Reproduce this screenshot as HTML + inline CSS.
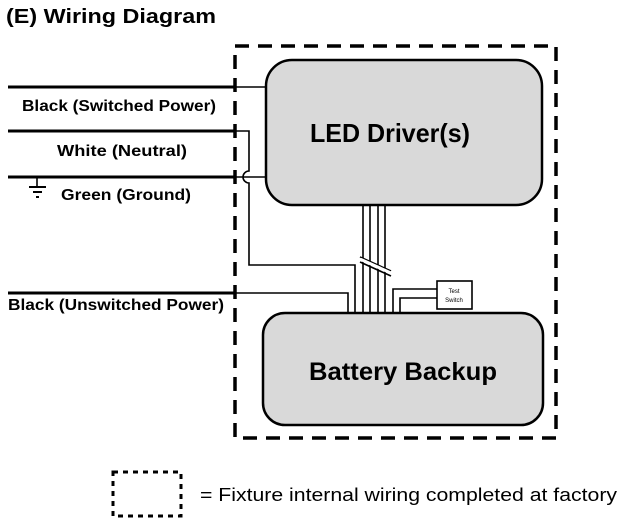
<!DOCTYPE html>
<html><head><style>
body{margin:0;background:#fff;width:620px;height:525px;overflow:hidden}
</style></head><body>
<svg width="620" height="525" xmlns="http://www.w3.org/2000/svg" font-family="'Liberation Sans',sans-serif">
<text x="6" y="23" font-size="20" font-weight="bold" textLength="210" lengthAdjust="spacingAndGlyphs">(E)  Wiring Diagram</text>
<rect x="235" y="46" width="321" height="392" fill="none" stroke="#000" stroke-width="3.5" stroke-dasharray="14,9"/>
<rect x="266" y="60" width="276" height="145" rx="26" fill="#d9d9d9" stroke="#000" stroke-width="2.5"/>
<text x="310" y="142" font-size="26" font-weight="bold" textLength="160" lengthAdjust="spacingAndGlyphs">LED Driver(s)</text>
<rect x="263" y="313" width="280" height="112" rx="22" fill="#d9d9d9" stroke="#000" stroke-width="2.5"/>
<text x="309" y="380" font-size="25" font-weight="bold" textLength="188" lengthAdjust="spacingAndGlyphs">Battery Backup</text>
<g stroke="#000" fill="none">
<g stroke-width="3"><line x1="8" y1="87" x2="236" y2="87"/><line x1="8" y1="131" x2="236" y2="131"/><line x1="8" y1="177" x2="236" y2="177"/><line x1="8" y1="293" x2="236" y2="293"/></g>
<g stroke-width="1.6">
<line x1="236" y1="87" x2="266" y2="87"/>
<path d="M236 131 H249 V171 A6 6 0 0 0 249 183 V265 H355 V313"/>
<line x1="236" y1="177" x2="266" y2="177"/>
<path d="M236 293 H348 V313"/>
<line x1="363" y1="205" x2="363" y2="313"/><line x1="370" y1="205" x2="370" y2="313"/><line x1="378" y1="205" x2="378" y2="313"/><line x1="385" y1="205" x2="385" y2="313"/>
<line x1="360" y1="257" x2="391" y2="271"/><line x1="360" y1="262" x2="391" y2="276"/>
<path d="M393 313 V289 H437"/><path d="M400 313 V298 H437"/>
<rect x="437" y="281" width="35" height="28" fill="#fff"/>
<line x1="37" y1="177" x2="37" y2="187"/><line x1="29" y1="187" x2="46" y2="187" stroke-width="2"/><line x1="33" y1="192" x2="42" y2="192" stroke-width="2"/><line x1="36" y1="197" x2="39" y2="197" stroke-width="2"/>
</g>
<line x1="360" y1="259" x2="391" y2="273" stroke="#fff" stroke-width="3"/>
<rect x="113" y="472" width="68" height="44" stroke-width="3" stroke-dasharray="5,5"/>
</g>
<text x="454" y="293" font-size="6" text-anchor="middle">Test</text>
<text x="454" y="302" font-size="6" text-anchor="middle">Switch</text>
<g font-size="16" font-weight="bold">
<text x="22" y="111" textLength="194" lengthAdjust="spacingAndGlyphs">Black (Switched Power)</text>
<text x="57" y="156" textLength="130" lengthAdjust="spacingAndGlyphs">White (Neutral)</text>
<text x="61" y="200" textLength="130" lengthAdjust="spacingAndGlyphs">Green (Ground)</text>
<text x="8" y="310" textLength="216" lengthAdjust="spacingAndGlyphs">Black (Unswitched Power)</text>
</g>
<text x="200" y="501" font-size="18" textLength="417" lengthAdjust="spacingAndGlyphs">= Fixture internal wiring completed at factory</text>
</svg>
</body></html>
